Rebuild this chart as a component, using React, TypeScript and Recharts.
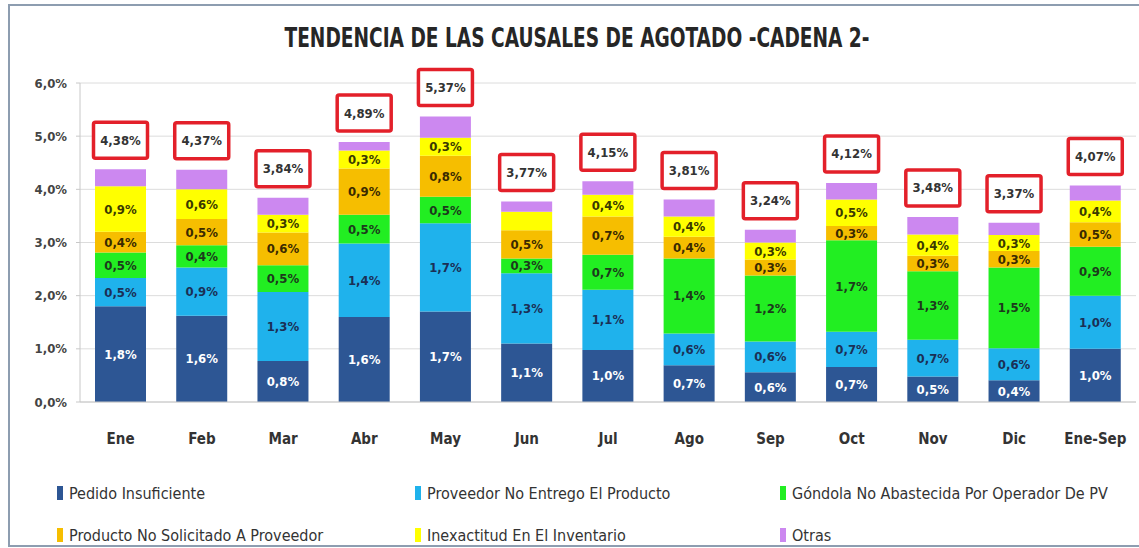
import React from "react";
import { BarChart, Bar, XAxis, YAxis, CartesianGrid, LabelList } from "recharts";

const categories = ["Ene", "Feb", "Mar", "Abr", "May", "Jun", "Jul", "Ago", "Sep", "Oct", "Nov", "Dic", "Ene-Sep"];
const pedidoInsuficiente = [1.8, 1.62, 0.77, 1.6, 1.7, 1.1, 0.98, 0.69, 0.56, 0.66, 0.48, 0.41, 1.0];
const proveedorNoEntrego = [0.53, 0.91, 1.3, 1.38, 1.66, 1.32, 1.13, 0.6, 0.58, 0.66, 0.69, 0.6, 1.0];
const gondolaNoAbastecida = [0.48, 0.42, 0.5, 0.54, 0.5, 0.28, 0.66, 1.41, 1.24, 1.72, 1.29, 1.52, 0.92];
const productoNoSolicitado = [0.39, 0.49, 0.62, 0.87, 0.77, 0.53, 0.72, 0.41, 0.3, 0.27, 0.29, 0.31, 0.46];
const inexactitudInventario = [0.86, 0.56, 0.33, 0.34, 0.34, 0.35, 0.41, 0.38, 0.32, 0.5, 0.4, 0.3, 0.41];
const otras = [0.32, 0.37, 0.32, 0.16, 0.4, 0.19, 0.25, 0.32, 0.24, 0.31, 0.33, 0.23, 0.28];
const totals = [4.38, 4.37, 3.84, 4.89, 5.37, 3.77, 4.15, 3.81, 3.24, 4.12, 3.48, 3.37, 4.07];
const yTicks = [0, 1, 2, 3, 4, 5, 6];
const hiddenLabels = ["Jun:inexactitud"];

const series = [
  { key: "pedido", name: "Pedido Insuficiente", values: pedidoInsuficiente, color: "#2d5694", text: "#ffffff", showLabel: true },
  { key: "proveedor", name: "Proveedor No Entrego El Producto", values: proveedorNoEntrego, color: "#1fb2ec", text: "#1b2f55", showLabel: true },
  { key: "gondola", name: "Góndola No Abastecida Por Operador De PV", values: gondolaNoAbastecida, color: "#22ee22", text: "#1c3a1c", showLabel: true },
  { key: "producto", name: "Producto No Solicitado A Proveedor", values: productoNoSolicitado, color: "#f6be00", text: "#3a2a00", showLabel: true },
  { key: "inexactitud", name: "Inexactitud En El Inventario", values: inexactitudInventario, color: "#ffff00", text: "#3a3a00", showLabel: true },
  { key: "otras", name: "Otras", values: otras, color: "#cc88f0", text: "#222", showLabel: false },
];

const data = categories.map((c, i) => {
  const row: any = { cat: c, total: totals[i] };
  series.forEach((s) => (row[s.key] = s.values[i]));
  return row;
});

const fmt1 = (v: number) => v.toFixed(1).replace(".", ",") + "%";
const fmt2 = (v: number) => v.toFixed(2).replace(".", ",") + "%";

const FONT = "'Liberation Sans Narrow', 'DejaVu Sans Condensed', 'Liberation Sans', Arial, sans-serif";

const makeLabel = (s: any) => (props: any) => {
  const { x, y, width, height, value, index } = props;
  if (!s.showLabel) return null;
  if (hiddenLabels.includes(`${categories[index]}:${s.key}`)) return null;
  return (
    <text
      x={Number(x) + Number(width) / 2}
      y={Number(y) + Number(height) / 2}
      textAnchor="middle"
      dominantBaseline="central"
      fontFamily={FONT}
      fontWeight="bold"
      fontSize={13}
      fill={s.text}
    >
      {fmt1(Number(value))}
    </text>
  );
};

const totalLabel = (props: any) => {
  const { x, y, width, value } = props;
  const cx = Number(x) + Number(width) / 2;
  const bw = 54;
  const bh = 36;
  const top = Number(y) - 11 - bh;
  return (
    <g>
      <rect x={cx - bw / 2} y={top} width={bw} height={bh} fill="#ffffff" stroke="#e3202a" strokeWidth={3.5} rx={2} />
      <text x={cx} y={top + bh / 2} textAnchor="middle" dominantBaseline="central" fontFamily={FONT} fontWeight="bold" fontSize={13} fill="#333">
        {fmt2(Number(value))}
      </text>
    </g>
  );
};

const legendCols = [57, 415, 780];

export default function App() {
  return (
    <div style={{ position: "absolute", left: 0, top: 0, width: 1139, height: 548, background: "#fff", overflow: "hidden" }}>
      <div
        style={{
          position: "absolute",
          left: 8,
          top: 4,
          width: 1140,
          height: 539,
          borderLeft: "2px solid #8d9db0",
          borderTop: "2px solid #8d9db0",
          borderBottom: "2px solid #8d9db0",
        }}
      />
      <svg style={{ position: "absolute", left: 0, top: 0 }} width={1139} height={60}>
        <text x={577} y={47} textAnchor="middle" fontFamily={FONT} fontWeight="bold" fontSize={26} fill="#262626" textLength={585} lengthAdjust="spacingAndGlyphs">
          TENDENCIA DE LAS CAUSALES DE AGOTADO -CADENA 2-
        </text>
      </svg>
      <div style={{ position: "absolute", left: 0, top: 0 }}>
        <BarChart width={1139} height={548} data={data} margin={{ top: 83, right: 3, bottom: 116, left: 8 }}>
          <CartesianGrid vertical={false} stroke="#dcdcdc" />
          <XAxis
            dataKey="cat"
            height={30}
            tickLine={false}
            axisLine={{ stroke: "#c8c8c8" }}
            tickMargin={25}
            tick={{ fontFamily: FONT, fontWeight: "bold", fontSize: 15, fill: "#333" }}
            interval={0}
          />
          <YAxis
            width={72}
            domain={[0, 6]}
            ticks={yTicks}
            tickFormatter={(v: number) => fmt1(v)}
            axisLine={{ stroke: "#c8c8c8" }}
            tickLine={{ stroke: "#c8c8c8" }}
            tickSize={4}
            tickMargin={9}
            tick={{ fontFamily: FONT, fontWeight: "bold", fontSize: 13, fill: "#444" }}
          />
          {series.map((s) => (
            <Bar key={s.key} dataKey={s.key} name={s.name} stackId="a" fill={s.color} barSize={51} isAnimationActive={false}>
              <LabelList dataKey={s.key} content={makeLabel(s)} />
              {s.key === "otras" ? <LabelList dataKey="total" content={totalLabel} /> : null}
            </Bar>
          ))}
        </BarChart>
      </div>
      <svg style={{ position: "absolute", left: 0, top: 470 }} width={1139} height={78}>
        {series.map((s, i) => {
          const col = i % 3;
          const row = Math.floor(i / 3);
          const x = legendCols[col];
          const cy = 23 + row * 42;
          return (
            <g key={s.key}>
              <rect x={x} y={cy - 7} width={6} height={14} fill={s.color} />
              <text x={x + 12} y={cy} dominantBaseline="central" fontFamily={FONT} fontSize={16} fill="#333">
                {s.name}
              </text>
            </g>
          );
        })}
      </svg>
    </div>
  );
}
